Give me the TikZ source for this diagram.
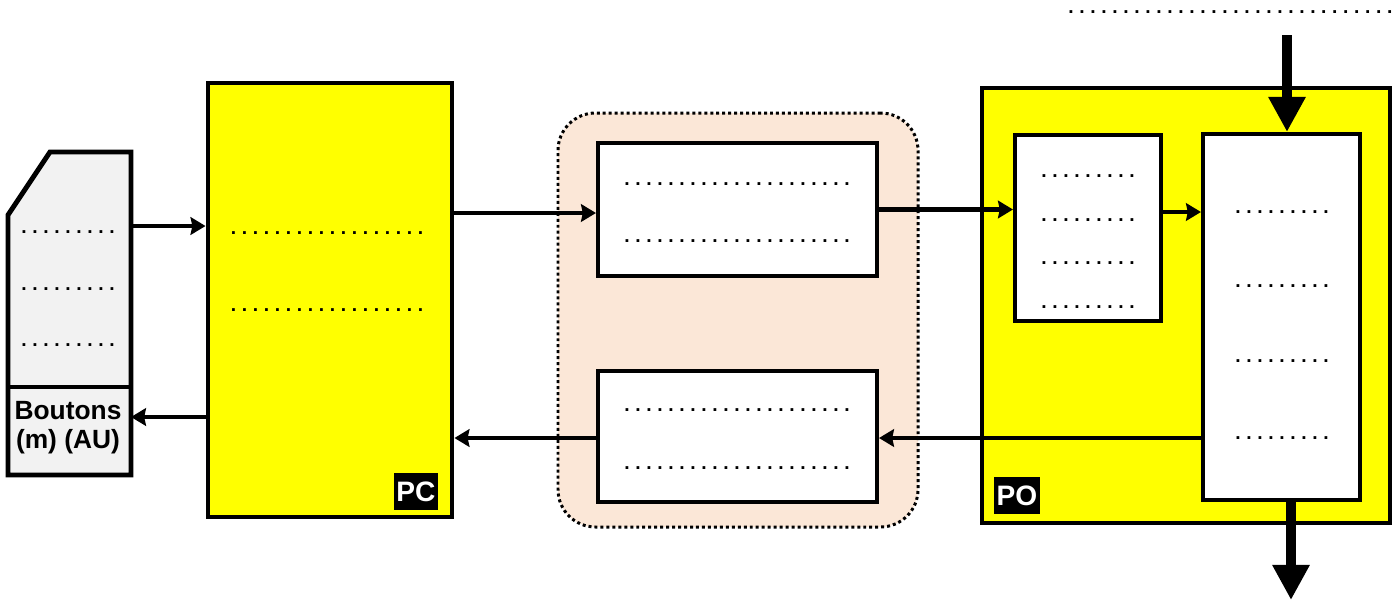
\documentclass[tikz,border=0pt]{standalone}
\usepackage{fontspec}
\setmainfont{Liberation Sans}
\usetikzlibrary{arrows.meta,fit,positioning}
\definecolor{panel}{RGB}{242,242,242}
\definecolor{peach}{RGB}{251,231,215}
\definecolor{yel}{RGB}{255,255,0}
\newcount\dotk
\newcommand{\dotrow}[1]{\dotk=0 \loop.\advance\dotk by 1 \ifnum\dotk<#1\hspace{3.2pt}\repeat}
\tikzset{
  blk/.style={draw,line width=2.8pt,fill=yel,inner sep=0pt},
  cell/.style={draw,line width=2.3pt,fill=white,inner sep=0pt},
  ptxt/.style={font=\fontsize{11}{13}\selectfont\bfseries,inner sep=0pt},
  tag/.style={fill=black,text=white,font=\fontsize{16}{18}\selectfont\bfseries,inner xsep=1.5pt,inner ysep=0pt,minimum height=21pt},
  arr/.style={line width=2.7pt,-{Stealth[length=8.5pt,width=10pt,inset=1pt]}},
  fat/.style={line width=6pt,-{Triangle[length=20pt,width=20pt]}}
}
\begin{document}
\begin{tikzpicture}[x=0.02cm,y=-0.02cm]
\useasboundingbox (0,0) rectangle (1400,603);
\draw[line width=2.8pt,fill=panel] (8,215) -- (50,152) -- (131,152) -- (131,475) -- (8,475) -- cycle;
\draw[line width=2.3pt] (8,387) -- (131,387);
\node[inner sep=0pt,fit={(8,152) (131,475)}] (pan) {};
\node[font=\fontsize{15}{16.5}\selectfont\bfseries,align=center,inner sep=0pt] (btn) at (68,428) {Boutons\\(m) (AU)};
\node[ptxt] (pd1) at (68,232) {\dotrow{9}};
\node[ptxt,below=1.06cm of pd1] (pd2) {\dotrow{9}};
\node[ptxt,below=1.06cm of pd2] (pd3) {\dotrow{9}};
\coordinate (pout) at (131,226);
\coordinate (pin) at (131,417);

\node[blk,fit={(208,83) (452,517)}] (PC) {};
\node[ptxt] (pc1) at (327,233) {\dotrow{18}};
\node[ptxt,below=1.46cm of pc1] (pc2) {\dotrow{18}};
\node[tag,anchor=south east] (PCtag) at ([shift={(-16,-9)}]PC.south east) {PC};

\node[draw,fill=peach,line width=1.7pt,dash pattern=on 1.7pt off 1.7pt,rounded corners=0.75cm,inner sep=0pt,fit={(558,113) (918,527)}] (bus) {};
\node[cell,fit={(598,143) (877,276)}] (M1) {};
\node[ptxt] (m11) at (737,184) {\dotrow{21}};
\node[ptxt,below=1.06cm of m11] (m12) {\dotrow{21}};
\node[cell,fit={(598,371) (877,502)}] (M2) {};
\node[ptxt] (m21) at (737,410) {\dotrow{21}};
\node[ptxt,below=1.08cm of m21] (m22) {\dotrow{21}};

\node[blk,fit={(982,88) (1390,523)}] (PO) {};
\node[tag,anchor=south west] (POtag) at ([shift={(14,-11)}]PO.south west) {PO};
\node[cell,fit={(1015,135) (1161,321)}] (S) {};
\node[ptxt] (s1) at (1088,176) {\dotrow{9}};
\node[ptxt,below=0.8cm of s1] (s2) {\dotrow{9}};
\node[ptxt,below=0.8cm of s2] (s3) {\dotrow{9}};
\node[ptxt,below=0.8cm of s3] (s4) {\dotrow{9}};
\node[cell,fit={(1203,134) (1360,500)}] (B) {};
\node[ptxt] (b1) at (1282,212) {\dotrow{9}};
\node[ptxt,below=1.4cm of b1] (b2) {\dotrow{9}};
\node[ptxt,below=1.44cm of b2] (b3) {\dotrow{9}};
\node[ptxt,below=1.46cm of b3] (b4) {\dotrow{9}};

\node[ptxt,anchor=west] (top) at (1068,12) {\dotrow{30}};
\coordinate (fin) at (1287,35);
\coordinate (fout) at (1291,600);

\draw[arr] (pout) -- (pout -| PC.west);
\draw[arr] (PC.west |- pin) -- (pin);
\draw[arr] (PC.east |- 0,213) -- (M1.west |- 0,213);
\draw[arr] (M2.west |- 0,438) -- (PC.east |- 0,438);
\draw[arr] (M1.east) -- (S.west |- M1.east);
\draw[arr] (S.east |- 0,212) -- (B.west |- 0,212);
\draw[arr] (B.west |- 0,438) -- (M2.east |- 0,438);
\draw[fat] (fin) -- (fin |- B.north);
\draw[fat] (fout |- B.south) -- (fout);
\end{tikzpicture}
\end{document}
